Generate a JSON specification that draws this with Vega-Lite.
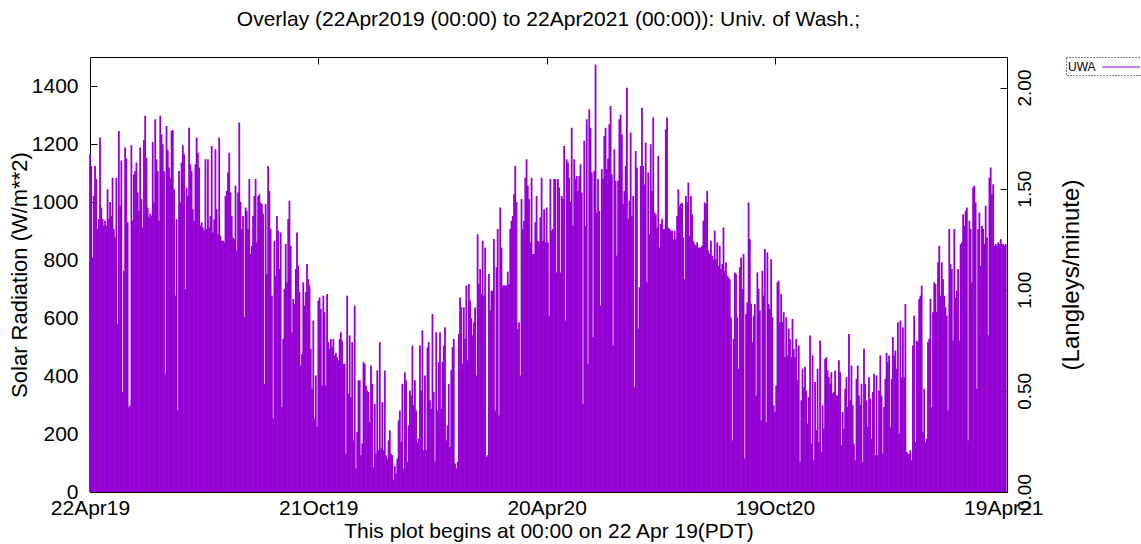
{
"$schema":"https://vega.github.io/schema/vega-lite/v6.json",
"width":917,"height":435,
"autosize":{"type":"none"},
"padding":{"left":90,"top":57,"right":134,"bottom":52},
"background":"white",
"title":{"text":"Overlay (22Apr2019 (00:00) to 22Apr2021 (00:00)): Univ. of Wash.;","anchor":"middle","offset":27,"fontSize":21,"font":"Liberation Sans","fontWeight":"normal","color":"#000"},
"config":{
"view":{"stroke":"#000","strokeWidth":1},
"axis":{"labelFont":"Liberation Sans","titleFont":"Liberation Sans","labelFontSize":21,"titleFontSize":21,"titleFontWeight":"normal","labelColor":"#000","titleColor":"#000","tickColor":"#000","grid":false,"domain":false,"tickSize":-7,"labelFlush":false},
"legend":{"strokeColor":"#000","strokeDash":[1,2],"strokeWidth":1,"padding":2}
},
"datasets":{"uwa":[
{"d":"2019-04-22","v":1165},{"d":"2019-04-23","v":1124},{"d":"2019-04-24","v":809},{"d":"2019-04-25","v":1021},{"d":"2019-04-26","v":1124},{"d":"2019-04-27","v":1079},{"d":"2019-04-28","v":907},{"d":"2019-04-29","v":941},{"d":"2019-04-30","v":1222},
{"d":"2019-05-01","v":981},{"d":"2019-05-02","v":941},{"d":"2019-05-03","v":918},{"d":"2019-05-04","v":935},{"d":"2019-05-05","v":918},{"d":"2019-05-06","v":1044},{"d":"2019-05-07","v":941},{"d":"2019-05-08","v":1000},{"d":"2019-05-09","v":952},{"d":"2019-05-10","v":1084},{"d":"2019-05-11","v":907},{"d":"2019-05-12","v":878},{"d":"2019-05-13","v":1084},{"d":"2019-05-14","v":580},{"d":"2019-05-15","v":1245},{"d":"2019-05-16","v":987},{"d":"2019-05-17","v":1142},{"d":"2019-05-18","v":345},{"d":"2019-05-19","v":763},{"d":"2019-05-20","v":1188},{"d":"2019-05-21","v":1150},{"d":"2019-05-22","v":930},{"d":"2019-05-23","v":293},{"d":"2019-05-24","v":299},{"d":"2019-05-25","v":1196},{"d":"2019-05-26","v":935},{"d":"2019-05-27","v":1096},{"d":"2019-05-28","v":1107},{"d":"2019-05-29","v":1136},{"d":"2019-05-30","v":1033},{"d":"2019-05-31","v":970},
{"d":"2019-06-01","v":1188},{"d":"2019-06-02","v":1010},{"d":"2019-06-03","v":912},{"d":"2019-06-04","v":1214},{"d":"2019-06-05","v":1297},{"d":"2019-06-06","v":1153},{"d":"2019-06-07","v":981},{"d":"2019-06-08","v":947},{"d":"2019-06-09","v":960},{"d":"2019-06-10","v":952},{"d":"2019-06-11","v":1207},{"d":"2019-06-12","v":998},{"d":"2019-06-13","v":1285},{"d":"2019-06-14","v":1147},{"d":"2019-06-15","v":1107},{"d":"2019-06-16","v":935},{"d":"2019-06-17","v":1297},{"d":"2019-06-18","v":1233},{"d":"2019-06-19","v":1199},{"d":"2019-06-20","v":1107},{"d":"2019-06-21","v":408},{"d":"2019-06-22","v":1262},{"d":"2019-06-23","v":1180},{"d":"2019-06-24","v":1119},{"d":"2019-06-25","v":1084},{"d":"2019-06-26","v":1245},{"d":"2019-06-27","v":1248},{"d":"2019-06-28","v":1044},{"d":"2019-06-29","v":677},{"d":"2019-06-30","v":941},
{"d":"2019-07-01","v":282},{"d":"2019-07-02","v":1107},{"d":"2019-07-03","v":998},{"d":"2019-07-04","v":1136},{"d":"2019-07-05","v":1196},{"d":"2019-07-06","v":1165},{"d":"2019-07-07","v":700},{"d":"2019-07-08","v":1050},{"d":"2019-07-09","v":1020},{"d":"2019-07-10","v":1256},{"d":"2019-07-11","v":1130},{"d":"2019-07-12","v":1107},{"d":"2019-07-13","v":975},{"d":"2019-07-14","v":935},{"d":"2019-07-15","v":1130},{"d":"2019-07-16","v":1222},{"d":"2019-07-17","v":1170},{"d":"2019-07-18","v":1119},{"d":"2019-07-19","v":918},{"d":"2019-07-20","v":930},{"d":"2019-07-21","v":912},{"d":"2019-07-22","v":901},{"d":"2019-07-23","v":1147},{"d":"2019-07-24","v":907},{"d":"2019-07-25","v":1147},{"d":"2019-07-26","v":912},{"d":"2019-07-27","v":952},{"d":"2019-07-28","v":1193},{"d":"2019-07-29","v":895},{"d":"2019-07-30","v":940},{"d":"2019-07-31","v":1182},
{"d":"2019-08-01","v":975},{"d":"2019-08-02","v":889},{"d":"2019-08-03","v":1222},{"d":"2019-08-04","v":884},{"d":"2019-08-05","v":866},{"d":"2019-08-06","v":866},{"d":"2019-08-07","v":861},{"d":"2019-08-08","v":1021},{"d":"2019-08-09","v":1038},{"d":"2019-08-10","v":1102},{"d":"2019-08-11","v":1170},{"d":"2019-08-12","v":1033},{"d":"2019-08-13","v":952},{"d":"2019-08-14","v":878},{"d":"2019-08-15","v":872},{"d":"2019-08-16","v":1056},{"d":"2019-08-17","v":832},{"d":"2019-08-18","v":1033},{"d":"2019-08-19","v":1274},{"d":"2019-08-20","v":1000},{"d":"2019-08-21","v":907},{"d":"2019-08-22","v":952},{"d":"2019-08-23","v":603},{"d":"2019-08-24","v":981},{"d":"2019-08-25","v":970},{"d":"2019-08-26","v":907},{"d":"2019-08-27","v":1079},{"d":"2019-08-28","v":821},{"d":"2019-08-29","v":849},{"d":"2019-08-30","v":952},{"d":"2019-08-31","v":1021},
{"d":"2019-09-01","v":1079},{"d":"2019-09-02","v":861},{"d":"2019-09-03","v":1021},{"d":"2019-09-04","v":1027},{"d":"2019-09-05","v":998},{"d":"2019-09-06","v":993},{"d":"2019-09-07","v":960},{"d":"2019-09-08","v":373},{"d":"2019-09-09","v":993},{"d":"2019-09-10","v":752},{"d":"2019-09-11","v":1124},{"d":"2019-09-12","v":1038},{"d":"2019-09-13","v":907},{"d":"2019-09-14","v":677},{"d":"2019-09-15","v":253},{"d":"2019-09-16","v":866},{"d":"2019-09-17","v":746},{"d":"2019-09-18","v":952},{"d":"2019-09-19","v":901},{"d":"2019-09-20","v":769},{"d":"2019-09-21","v":895},{"d":"2019-09-22","v":293},{"d":"2019-09-23","v":528},{"d":"2019-09-24","v":700},{"d":"2019-09-25","v":855},{"d":"2019-09-26","v":723},{"d":"2019-09-27","v":941},{"d":"2019-09-28","v":1004},{"d":"2019-09-29","v":849},{"d":"2019-09-30","v":551},
{"d":"2019-10-01","v":666},{"d":"2019-10-02","v":648},{"d":"2019-10-03","v":769},{"d":"2019-10-04","v":895},{"d":"2019-10-05","v":780},{"d":"2019-10-06","v":689},{"d":"2019-10-07","v":436},{"d":"2019-10-08","v":476},{"d":"2019-10-09","v":723},{"d":"2019-10-10","v":643},{"d":"2019-10-11","v":689},{"d":"2019-10-12","v":786},{"d":"2019-10-13","v":734},{"d":"2019-10-14","v":712},{"d":"2019-10-15","v":494},{"d":"2019-10-16","v":356},{"d":"2019-10-17","v":591},{"d":"2019-10-18","v":253},{"d":"2019-10-19","v":402},{"d":"2019-10-20","v":224},{"d":"2019-10-21","v":660},{"d":"2019-10-22","v":671},{"d":"2019-10-23","v":631},{"d":"2019-10-24","v":367},{"d":"2019-10-25","v":677},{"d":"2019-10-26","v":620},{"d":"2019-10-27","v":367},{"d":"2019-10-28","v":683},{"d":"2019-10-29","v":517},{"d":"2019-10-30","v":494},{"d":"2019-10-31","v":528},
{"d":"2019-11-01","v":499},{"d":"2019-11-02","v":528},{"d":"2019-11-03","v":471},{"d":"2019-11-04","v":480},{"d":"2019-11-05","v":465},{"d":"2019-11-06","v":454},{"d":"2019-11-07","v":528},{"d":"2019-11-08","v":551},{"d":"2019-11-09","v":522},{"d":"2019-11-10","v":442},{"d":"2019-11-11","v":442},{"d":"2019-11-12","v":132},{"d":"2019-11-13","v":677},{"d":"2019-11-14","v":339},{"d":"2019-11-15","v":540},{"d":"2019-11-16","v":327},{"d":"2019-11-17","v":517},{"d":"2019-11-18","v":178},{"d":"2019-11-19","v":643},{"d":"2019-11-20","v":81},{"d":"2019-11-21","v":207},{"d":"2019-11-22","v":385},{"d":"2019-11-23","v":385},{"d":"2019-11-24","v":127},{"d":"2019-11-25","v":167},{"d":"2019-11-26","v":448},{"d":"2019-11-27","v":442},{"d":"2019-11-28","v":367},{"d":"2019-11-29","v":350},{"d":"2019-11-30","v":345},
{"d":"2019-12-01","v":241},{"d":"2019-12-02","v":436},{"d":"2019-12-03","v":373},{"d":"2019-12-04","v":86},{"d":"2019-12-05","v":304},{"d":"2019-12-06","v":132},{"d":"2019-12-07","v":419},{"d":"2019-12-08","v":144},{"d":"2019-12-09","v":517},{"d":"2019-12-10","v":150},{"d":"2019-12-11","v":310},{"d":"2019-12-12","v":144},{"d":"2019-12-13","v":419},{"d":"2019-12-14","v":127},{"d":"2019-12-15","v":115},{"d":"2019-12-16","v":178},{"d":"2019-12-17","v":213},{"d":"2019-12-18","v":132},{"d":"2019-12-19","v":127},{"d":"2019-12-20","v":41},{"d":"2019-12-21","v":90},{"d":"2019-12-22","v":64},{"d":"2019-12-23","v":115},{"d":"2019-12-24","v":247},{"d":"2019-12-25","v":281},{"d":"2019-12-26","v":172},{"d":"2019-12-27","v":373},{"d":"2019-12-28","v":81},{"d":"2019-12-29","v":413},{"d":"2019-12-30","v":385},{"d":"2019-12-31","v":104},
{"d":"2020-01-01","v":230},{"d":"2020-01-02","v":350},{"d":"2020-01-03","v":333},{"d":"2020-01-04","v":505},{"d":"2020-01-05","v":300},{"d":"2020-01-06","v":385},{"d":"2020-01-07","v":281},{"d":"2020-01-08","v":172},{"d":"2020-01-09","v":184},{"d":"2020-01-10","v":505},{"d":"2020-01-11","v":350},{"d":"2020-01-12","v":557},{"d":"2020-01-13","v":144},{"d":"2020-01-14","v":402},{"d":"2020-01-15","v":144},{"d":"2020-01-16","v":499},{"d":"2020-01-17","v":517},{"d":"2020-01-18","v":316},{"d":"2020-01-19","v":287},{"d":"2020-01-20","v":614},{"d":"2020-01-21","v":345},{"d":"2020-01-22","v":104},{"d":"2020-01-23","v":551},{"d":"2020-01-24","v":281},{"d":"2020-01-25","v":448},{"d":"2020-01-26","v":551},{"d":"2020-01-27","v":287},{"d":"2020-01-28","v":448},{"d":"2020-01-29","v":505},{"d":"2020-01-30","v":568},{"d":"2020-01-31","v":178},
{"d":"2020-02-01","v":230},{"d":"2020-02-02","v":373},{"d":"2020-02-03","v":155},{"d":"2020-02-04","v":420},{"d":"2020-02-05","v":499},{"d":"2020-02-06","v":528},{"d":"2020-02-07","v":98},{"d":"2020-02-08","v":81},{"d":"2020-02-09","v":104},{"d":"2020-02-10","v":545},{"d":"2020-02-11","v":671},{"d":"2020-02-12","v":637},{"d":"2020-02-13","v":442},{"d":"2020-02-14","v":637},{"d":"2020-02-15","v":528},{"d":"2020-02-16","v":712},{"d":"2020-02-17","v":454},{"d":"2020-02-18","v":717},{"d":"2020-02-19","v":660},{"d":"2020-02-20","v":600},{"d":"2020-02-21","v":540},{"d":"2020-02-22","v":585},{"d":"2020-02-23","v":637},{"d":"2020-02-24","v":402},{"d":"2020-02-25","v":889},{"d":"2020-02-26","v":717},{"d":"2020-02-27","v":769},{"d":"2020-02-28","v":683},{"d":"2020-02-29","v":866},
{"d":"2020-03-01","v":677},{"d":"2020-03-02","v":843},{"d":"2020-03-03","v":121},{"d":"2020-03-04","v":127},{"d":"2020-03-05","v":752},{"d":"2020-03-06","v":626},{"d":"2020-03-07","v":694},{"d":"2020-03-08","v":694},{"d":"2020-03-09","v":872},{"d":"2020-03-10","v":281},{"d":"2020-03-11","v":775},{"d":"2020-03-12","v":907},{"d":"2020-03-13","v":264},{"d":"2020-03-14","v":981},{"d":"2020-03-15","v":843},{"d":"2020-03-16","v":712},{"d":"2020-03-17","v":712},{"d":"2020-03-18","v":712},{"d":"2020-03-19","v":712},{"d":"2020-03-20","v":760},{"d":"2020-03-21","v":717},{"d":"2020-03-22","v":907},{"d":"2020-03-23","v":935},{"d":"2020-03-24","v":952},{"d":"2020-03-25","v":1027},{"d":"2020-03-26","v":1124},{"d":"2020-03-27","v":1000},{"d":"2020-03-28","v":562},{"d":"2020-03-29","v":585},{"d":"2020-03-30","v":402},{"d":"2020-03-31","v":1010},
{"d":"2020-04-01","v":907},{"d":"2020-04-02","v":935},{"d":"2020-04-03","v":1084},{"d":"2020-04-04","v":1147},{"d":"2020-04-05","v":1056},{"d":"2020-04-06","v":1010},{"d":"2020-04-07","v":861},{"d":"2020-04-08","v":1084},{"d":"2020-04-09","v":821},{"d":"2020-04-10","v":821},{"d":"2020-04-11","v":930},{"d":"2020-04-12","v":1021},{"d":"2020-04-13","v":866},{"d":"2020-04-14","v":861},{"d":"2020-04-15","v":947},{"d":"2020-04-16","v":1084},{"d":"2020-04-17","v":866},{"d":"2020-04-18","v":975},{"d":"2020-04-19","v":861},{"d":"2020-04-20","v":981},{"d":"2020-04-21","v":861},{"d":"2020-04-22","v":608},{"d":"2020-04-23","v":1079},{"d":"2020-04-24","v":901},{"d":"2020-04-25","v":907},{"d":"2020-04-26","v":1079},{"d":"2020-04-27","v":1079},{"d":"2020-04-28","v":757},{"d":"2020-04-29","v":1079},{"d":"2020-04-30","v":1050},
{"d":"2020-05-01","v":757},{"d":"2020-05-02","v":1021},{"d":"2020-05-03","v":1010},{"d":"2020-05-04","v":1193},{"d":"2020-05-05","v":591},{"d":"2020-05-06","v":1147},{"d":"2020-05-07","v":1136},{"d":"2020-05-08","v":1084},{"d":"2020-05-09","v":1000},{"d":"2020-05-10","v":1256},{"d":"2020-05-11","v":918},{"d":"2020-05-12","v":1147},{"d":"2020-05-13","v":1079},{"d":"2020-05-14","v":1090},{"d":"2020-05-15","v":1038},{"d":"2020-05-16","v":1090},{"d":"2020-05-17","v":1130},{"d":"2020-05-18","v":1033},{"d":"2020-05-19","v":304},{"d":"2020-05-20","v":1211},{"d":"2020-05-21","v":918},{"d":"2020-05-22","v":1285},{"d":"2020-05-23","v":442},{"d":"2020-05-24","v":1320},{"d":"2020-05-25","v":1256},{"d":"2020-05-26","v":1102},{"d":"2020-05-27","v":534},{"d":"2020-05-28","v":1107},{"d":"2020-05-29","v":1474},{"d":"2020-05-30","v":964},{"d":"2020-05-31","v":1079},
{"d":"2020-06-01","v":970},{"d":"2020-06-02","v":643},{"d":"2020-06-03","v":1113},{"d":"2020-06-04","v":1079},{"d":"2020-06-05","v":1228},{"d":"2020-06-06","v":1256},{"d":"2020-06-07","v":1113},{"d":"2020-06-08","v":1150},{"d":"2020-06-09","v":1268},{"d":"2020-06-10","v":1331},{"d":"2020-06-11","v":1096},{"d":"2020-06-12","v":505},{"d":"2020-06-13","v":1182},{"d":"2020-06-14","v":1073},{"d":"2020-06-15","v":815},{"d":"2020-06-16","v":1073},{"d":"2020-06-17","v":1285},{"d":"2020-06-18","v":1302},{"d":"2020-06-19","v":1233},{"d":"2020-06-20","v":993},{"d":"2020-06-21","v":1038},{"d":"2020-06-22","v":1124},{"d":"2020-06-23","v":1394},{"d":"2020-06-24","v":941},{"d":"2020-06-25","v":1004},{"d":"2020-06-26","v":1239},{"d":"2020-06-27","v":952},{"d":"2020-06-28","v":1021},{"d":"2020-06-29","v":362},{"d":"2020-06-30","v":1176},
{"d":"2020-07-01","v":1119},{"d":"2020-07-02","v":563},{"d":"2020-07-03","v":706},{"d":"2020-07-04","v":1124},{"d":"2020-07-05","v":1325},{"d":"2020-07-06","v":1124},{"d":"2020-07-07","v":1060},{"d":"2020-07-08","v":1205},{"d":"2020-07-09","v":723},{"d":"2020-07-10","v":1102},{"d":"2020-07-11","v":889},{"d":"2020-07-12","v":1199},{"d":"2020-07-13","v":1038},{"d":"2020-07-14","v":1291},{"d":"2020-07-15","v":964},{"d":"2020-07-16","v":958},{"d":"2020-07-17","v":912},{"d":"2020-07-18","v":1159},{"d":"2020-07-19","v":843},{"d":"2020-07-20","v":924},{"d":"2020-07-21","v":941},{"d":"2020-07-22","v":907},{"d":"2020-07-23","v":907},{"d":"2020-07-24","v":1251},{"d":"2020-07-25","v":1291},{"d":"2020-07-26","v":912},{"d":"2020-07-27","v":907},{"d":"2020-07-28","v":901},{"d":"2020-07-29","v":901},{"d":"2020-07-30","v":872},{"d":"2020-07-31","v":901},
{"d":"2020-08-01","v":872},{"d":"2020-08-02","v":952},{"d":"2020-08-03","v":1044},{"d":"2020-08-04","v":987},{"d":"2020-08-05","v":993},{"d":"2020-08-06","v":998},{"d":"2020-08-07","v":878},{"d":"2020-08-08","v":734},{"d":"2020-08-09","v":1021},{"d":"2020-08-10","v":1000},{"d":"2020-08-11","v":1067},{"d":"2020-08-12","v":884},{"d":"2020-08-13","v":1021},{"d":"2020-08-14","v":958},{"d":"2020-08-15","v":866},{"d":"2020-08-16","v":855},{"d":"2020-08-17","v":849},{"d":"2020-08-18","v":861},{"d":"2020-08-19","v":843},{"d":"2020-08-20","v":843},{"d":"2020-08-21","v":843},{"d":"2020-08-22","v":850},{"d":"2020-08-23","v":935},{"d":"2020-08-24","v":998},{"d":"2020-08-25","v":993},{"d":"2020-08-26","v":1038},{"d":"2020-08-27","v":832},{"d":"2020-08-28","v":821},{"d":"2020-08-29","v":866},{"d":"2020-08-30","v":815},{"d":"2020-08-31","v":803},
{"d":"2020-09-01","v":901},{"d":"2020-09-02","v":803},{"d":"2020-09-03","v":861},{"d":"2020-09-04","v":780},{"d":"2020-09-05","v":849},{"d":"2020-09-06","v":769},{"d":"2020-09-07","v":786},{"d":"2020-09-08","v":912},{"d":"2020-09-09","v":763},{"d":"2020-09-10","v":792},{"d":"2020-09-11","v":746},{"d":"2020-09-12","v":740},{"d":"2020-09-13","v":734},{"d":"2020-09-14","v":603},{"d":"2020-09-15","v":178},{"d":"2020-09-16","v":528},{"d":"2020-09-17","v":757},{"d":"2020-09-18","v":752},{"d":"2020-09-19","v":603},{"d":"2020-09-20","v":425},{"d":"2020-09-21","v":775},{"d":"2020-09-22","v":809},{"d":"2020-09-23","v":700},{"d":"2020-09-24","v":821},{"d":"2020-09-25","v":115},{"d":"2020-09-26","v":614},{"d":"2020-09-27","v":654},{"d":"2020-09-28","v":998},{"d":"2020-09-29","v":872},{"d":"2020-09-30","v":648},
{"d":"2020-10-01","v":517},{"d":"2020-10-02","v":608},{"d":"2020-10-03","v":648},{"d":"2020-10-04","v":333},{"d":"2020-10-05","v":757},{"d":"2020-10-06","v":700},{"d":"2020-10-07","v":626},{"d":"2020-10-08","v":247},{"d":"2020-10-09","v":763},{"d":"2020-10-10","v":677},{"d":"2020-10-11","v":838},{"d":"2020-10-12","v":241},{"d":"2020-10-13","v":826},{"d":"2020-10-14","v":648},{"d":"2020-10-15","v":631},{"d":"2020-10-16","v":803},{"d":"2020-10-17","v":603},{"d":"2020-10-18","v":299},{"d":"2020-10-19","v":276},{"d":"2020-10-20","v":367},{"d":"2020-10-21","v":723},{"d":"2020-10-22","v":729},{"d":"2020-10-23","v":585},{"d":"2020-10-24","v":683},{"d":"2020-10-25","v":585},{"d":"2020-10-26","v":620},{"d":"2020-10-27","v":465},{"d":"2020-10-28","v":603},{"d":"2020-10-29","v":471},{"d":"2020-10-30","v":563},{"d":"2020-10-31","v":528},
{"d":"2020-11-01","v":465},{"d":"2020-11-02","v":597},{"d":"2020-11-03","v":494},{"d":"2020-11-04","v":465},{"d":"2020-11-05","v":528},{"d":"2020-11-06","v":385},{"d":"2020-11-07","v":505},{"d":"2020-11-08","v":104},{"d":"2020-11-09","v":316},{"d":"2020-11-10","v":425},{"d":"2020-11-11","v":360},{"d":"2020-11-12","v":431},{"d":"2020-11-13","v":350},{"d":"2020-11-14","v":236},{"d":"2020-11-15","v":327},{"d":"2020-11-16","v":540},{"d":"2020-11-17","v":167},{"d":"2020-11-18","v":471},{"d":"2020-11-19","v":109},{"d":"2020-11-20","v":379},{"d":"2020-11-21","v":213},{"d":"2020-11-22","v":425},{"d":"2020-11-23","v":172},{"d":"2020-11-24","v":522},{"d":"2020-11-25","v":138},{"d":"2020-11-26","v":299},{"d":"2020-11-27","v":218},{"d":"2020-11-28","v":459},{"d":"2020-11-29","v":465},{"d":"2020-11-30","v":420},
{"d":"2020-12-01","v":396},{"d":"2020-12-02","v":373},{"d":"2020-12-03","v":413},{"d":"2020-12-04","v":339},{"d":"2020-12-05","v":345},{"d":"2020-12-06","v":419},{"d":"2020-12-07","v":333},{"d":"2020-12-08","v":333},{"d":"2020-12-09","v":454},{"d":"2020-12-10","v":413},{"d":"2020-12-11","v":161},{"d":"2020-12-12","v":276},{"d":"2020-12-13","v":218},{"d":"2020-12-14","v":356},{"d":"2020-12-15","v":396},{"d":"2020-12-16","v":293},{"d":"2020-12-17","v":545},{"d":"2020-12-18","v":316},{"d":"2020-12-19","v":436},{"d":"2020-12-20","v":299},{"d":"2020-12-21","v":167},{"d":"2020-12-22","v":109},{"d":"2020-12-23","v":390},{"d":"2020-12-24","v":436},{"d":"2020-12-25","v":333},{"d":"2020-12-26","v":300},{"d":"2020-12-27","v":373},{"d":"2020-12-28","v":104},{"d":"2020-12-29","v":494},{"d":"2020-12-30","v":373},{"d":"2020-12-31","v":316},
{"d":"2021-01-01","v":224},{"d":"2021-01-02","v":396},{"d":"2021-01-03","v":322},{"d":"2021-01-04","v":184},{"d":"2021-01-05","v":345},{"d":"2021-01-06","v":408},{"d":"2021-01-07","v":127},{"d":"2021-01-08","v":402},{"d":"2021-01-09","v":127},{"d":"2021-01-10","v":350},{"d":"2021-01-11","v":471},{"d":"2021-01-12","v":333},{"d":"2021-01-13","v":132},{"d":"2021-01-14","v":293},{"d":"2021-01-15","v":390},{"d":"2021-01-16","v":480},{"d":"2021-01-17","v":448},{"d":"2021-01-18","v":471},{"d":"2021-01-19","v":224},{"d":"2021-01-20","v":390},{"d":"2021-01-21","v":534},{"d":"2021-01-22","v":471},{"d":"2021-01-23","v":488},{"d":"2021-01-24","v":425},{"d":"2021-01-25","v":585},{"d":"2021-01-26","v":201},{"d":"2021-01-27","v":591},{"d":"2021-01-28","v":396},{"d":"2021-01-29","v":568},{"d":"2021-01-30","v":396},{"d":"2021-01-31","v":648},
{"d":"2021-02-01","v":138},{"d":"2021-02-02","v":132},{"d":"2021-02-03","v":132},{"d":"2021-02-04","v":144},{"d":"2021-02-05","v":109},{"d":"2021-02-06","v":505},{"d":"2021-02-07","v":608},{"d":"2021-02-08","v":172},{"d":"2021-02-09","v":522},{"d":"2021-02-10","v":517},{"d":"2021-02-11","v":666},{"d":"2021-02-12","v":677},{"d":"2021-02-13","v":712},{"d":"2021-02-14","v":207},{"d":"2021-02-15","v":356},{"d":"2021-02-16","v":172},{"d":"2021-02-17","v":184},{"d":"2021-02-18","v":517},{"d":"2021-02-19","v":528},{"d":"2021-02-20","v":666},{"d":"2021-02-21","v":293},{"d":"2021-02-22","v":620},{"d":"2021-02-23","v":723},{"d":"2021-02-24","v":717},{"d":"2021-02-25","v":620},{"d":"2021-02-26","v":792},{"d":"2021-02-27","v":849},{"d":"2021-02-28","v":677},
{"d":"2021-03-01","v":792},{"d":"2021-03-02","v":734},{"d":"2021-03-03","v":677},{"d":"2021-03-04","v":637},{"d":"2021-03-05","v":608},{"d":"2021-03-06","v":281},{"d":"2021-03-07","v":907},{"d":"2021-03-08","v":786},{"d":"2021-03-09","v":769},{"d":"2021-03-10","v":522},{"d":"2021-03-11","v":907},{"d":"2021-03-12","v":671},{"d":"2021-03-13","v":694},{"d":"2021-03-14","v":769},{"d":"2021-03-15","v":522},{"d":"2021-03-16","v":855},{"d":"2021-03-17","v":861},{"d":"2021-03-18","v":958},{"d":"2021-03-19","v":918},{"d":"2021-03-20","v":970},{"d":"2021-03-21","v":981},{"d":"2021-03-22","v":178},{"d":"2021-03-23","v":935},{"d":"2021-03-24","v":907},{"d":"2021-03-25","v":723},{"d":"2021-03-26","v":1050},{"d":"2021-03-27","v":1056},{"d":"2021-03-28","v":998},{"d":"2021-03-29","v":356},{"d":"2021-03-30","v":907},{"d":"2021-03-31","v":964},
{"d":"2021-04-01","v":780},{"d":"2021-04-02","v":918},{"d":"2021-04-03","v":907},{"d":"2021-04-04","v":855},{"d":"2021-04-05","v":987},{"d":"2021-04-06","v":878},{"d":"2021-04-07","v":540},{"d":"2021-04-08","v":1084},{"d":"2021-04-09","v":1119},{"d":"2021-04-10","v":1027},{"d":"2021-04-11","v":1061},{"d":"2021-04-12","v":849},{"d":"2021-04-13","v":855},{"d":"2021-04-14","v":849},{"d":"2021-04-15","v":861},{"d":"2021-04-16","v":855},{"d":"2021-04-17","v":872},{"d":"2021-04-18","v":855},{"d":"2021-04-19","v":855},{"d":"2021-04-20","v":850},{"d":"2021-04-21","v":855}
]},
"data":{"name":"uwa"},
"layer":[
{
"mark":{"type":"rule","strokeWidth":1.8},
"encoding":{
"x":{"field":"d","type":"temporal","scale":{"type":"utc","domain":[{"year":2019,"month":4,"date":22,"utc":true},{"year":2021,"month":4,"date":22,"utc":true}]},
"axis":{"orient":"bottom","values":[{"year":2019,"month":4,"date":22,"utc":true},{"year":2019,"month":10,"date":21,"utc":true},{"year":2020,"month":4,"date":20,"utc":true},{"year":2020,"month":10,"date":19,"utc":true},{"year":2021,"month":4,"date":19,"utc":true}],"format":"%d%b%y","title":"This plot begins at 00:00 on 22 Apr 19(PDT)","labelPadding":12,"titlePadding":2,"labelOverlap":false}},
"y":{"field":"v","type":"quantitative","scale":{"domain":[0,1500],"nice":false},"axis":{"values":[0,200,400,600,800,1000,1200,1400],"format":"d","title":"Solar Radiation (W/m**2)","titleFontSize":22,"labelPadding":19,"titlePadding":0,"labelOverlap":false}},
"y2":{"datum":0},
"color":{"datum":"UWA","type":"nominal","scale":{"range":["#9400d3"]},
"legend":{"orient":"none","legendX":976,"legendY":0,"title":null,"symbolType":"M-2.7,0H2.7","symbolSize":196,"symbolStrokeWidth":1.2,"symbolFillColor":"transparent","labelFont":"Liberation Sans","labelFontSize":12,"labelColor":"#000",
"encode":{"symbols":{"update":{"x":{"value":53}}},"labels":{"update":{"x":{"value":0}}}}}}
}
},
{
"mark":{"type":"point","opacity":0},
"encoding":{
"x":{"field":"d","type":"temporal","axis":{"orient":"top","values":[{"year":2019,"month":10,"date":21,"utc":true},{"year":2020,"month":4,"date":20,"utc":true},{"year":2020,"month":10,"date":19,"utc":true}],"labels":false,"title":null}},
"y":{"datum":0,"type":"quantitative","scale":{"domain":[0,2.151],"nice":false},"axis":{"orient":"right","values":[0,0.5,1,1.5,2],"format":".2f","labelFontSize":19,"labelAngle":-90,"labelAlign":"center","labelBaseline":"top","labelPadding":15,"labelOverlap":false,"title":"(Langleys/minute)","titleFontSize":24,"titleAngle":-90,"titleBaseline":"top","titlePadding":25}}
}
}
],
"resolve":{"scale":{"y":"independent"},"axis":{"x":"independent"}}
}
